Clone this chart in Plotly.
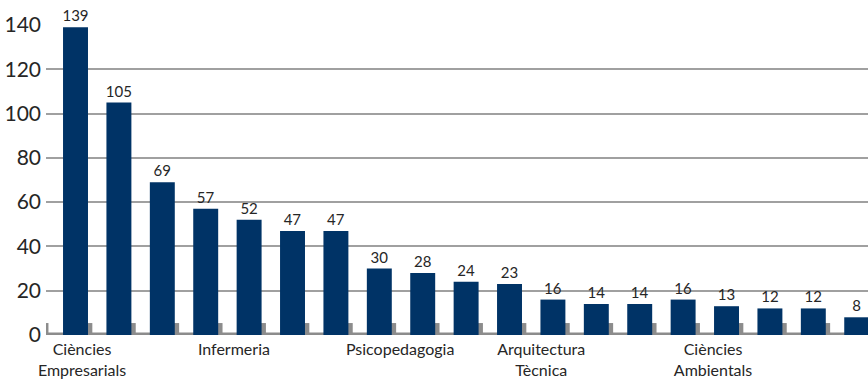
import plotly.graph_objects as go

# Enrolment counts per degree, in descending order
values = [139, 105, 69, 57, 52, 47, 47, 30, 28, 24, 23, 16, 14, 14, 16, 13, 12, 12, 8]

# Category labels shown along the x axis and where they sit (in bar-index units)
label_text = ["Ciències<br>Empresarials", "Infermeria", "Psicopedagogia",
              "Arquitectura<br>Tècnica", "Ciències<br>Ambientals"]
label_pos = [0.15, 3.65, 7.48, 10.73, 14.69]

y_ticks = [0, 20, 40, 60, 80, 100, 120, 140]

NAVY = "#003366"
GREY = "#8c8c8c"
TEXT = "#262626"
FONT = "Lato, 'Open Sans', sans-serif"

idx = list(range(len(values)))
bar_w = 0.575
depth = 5.4  # height of the grey floor block behind each bar

fig = go.Figure()

# grey "depth" blocks slightly behind and right of each bar
fig.add_trace(go.Bar(
    x=idx, y=[depth] * len(idx), width=bar_w, offset=-bar_w / 2 + 0.1,
    marker=dict(color=GREY, line=dict(width=0)), hoverinfo="skip",
))

# main bars with value labels
fig.add_trace(go.Bar(
    x=idx, y=values, width=bar_w, offset=-bar_w / 2,
    marker=dict(color=NAVY, line=dict(width=0)),
    text=[str(v) for v in values], textposition="outside",
    textfont=dict(family=FONT, size=15, color=TEXT),
    constraintext="none", cliponaxis=False,
))

# floor strip and left wall edge
fig.add_shape(type="rect", xref="paper", x0=0, x1=1, yref="y", y0=0, y1=1.1,
              fillcolor=GREY, line=dict(width=0), layer="below")
fig.add_shape(type="rect", xref="paper", x0=0, x1=0.003, yref="y", y0=0, y1=depth,
              fillcolor=GREY, line=dict(width=0), layer="below")

fig.update_layout(
    width=868, height=382,
    margin=dict(l=46, r=0, t=25, b=47),
    paper_bgcolor="white", plot_bgcolor="white",
    barmode="overlay", showlegend=False,
    font=dict(family=FONT, color=TEXT),
    xaxis=dict(
        range=[-0.68, 18.26], tickmode="array", tickvals=label_pos, ticktext=label_text,
        showgrid=False, zeroline=False, showline=False, ticks="", ticklabelstandoff=3,
        tickfont=dict(family=FONT, size=16, color=TEXT), automargin=False,
    ),
    yaxis=dict(
        range=[0, 140], tickmode="array", tickvals=y_ticks,
        showgrid=True, gridcolor="#a0a0a0", gridwidth=1.5,
        zeroline=False, showline=False, ticks="", ticklabelstandoff=4,
        tickfont=dict(family=FONT, size=21, color=TEXT), automargin=False,
    ),
)

fig.write_html("out.html")
